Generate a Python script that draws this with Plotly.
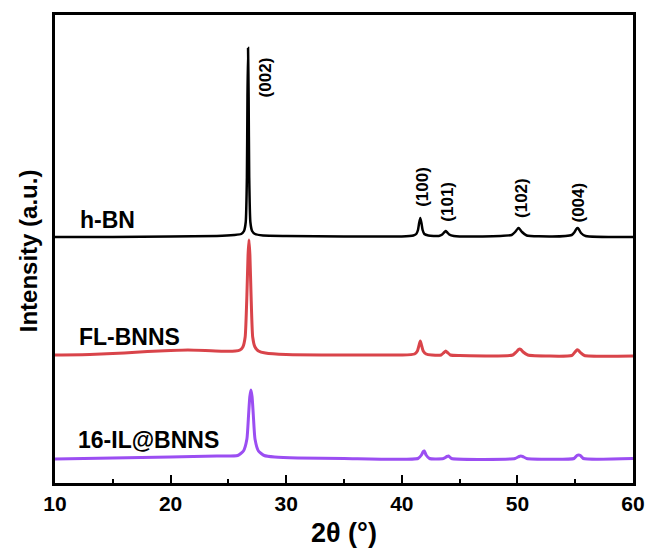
import plotly.graph_objects as go

# ---- data (2θ in degrees, intensity in arbitrary units above each baseline) ----
hbn_x = [10, 15, 20, 24, 25.5, 26.1, 26.35, 26.5, 26.6, 26.65, 26.7, 26.75, 26.8, 26.9, 27.05, 27.3, 28, 30, 35, 40,
         41.0, 41.25, 41.4, 41.5, 41.6, 41.7, 41.8, 41.95, 42.3, 43.2, 43.5, 43.7, 43.8, 43.9, 44.1, 44.5, 47,
         49.5, 49.8, 50.0, 50.1, 50.2, 50.4, 50.8, 53, 54.7, 54.95, 55.1, 55.2, 55.3, 55.5, 55.9, 60]
hbn_y = [0, 0, 0.5, 1, 2, 3, 6, 15, 60, 140, 189, 140, 60, 15, 6, 3, 1.5, 1, 0.5, 0.5,
         1.5, 3, 7, 14, 19, 14, 7, 3, 1.5, 1, 2.5, 5, 6, 5, 2.5, 1, 0.5,
         2, 5, 8, 9, 8, 5, 1.5, 0.5, 2, 5, 8, 9, 8, 4, 1, 0]

fl_x = [10, 13, 16, 18, 20, 21.5, 23, 24.5, 25.6, 26.0, 26.25, 26.45, 26.6, 26.7, 26.78, 26.86, 26.96, 27.1, 27.3,
        27.6, 28.2, 30, 35, 40, 41.1, 41.35, 41.5, 41.6, 41.7, 41.85, 42.1, 42.6, 43.4, 43.65, 43.8, 43.95, 44.2, 45,
        49.6, 49.9, 50.1, 50.2, 50.3, 50.5, 50.9, 54.7, 54.95, 55.15, 55.25, 55.45, 55.8, 60]
fl_y = [0, 0.5, 2, 3.5, 4.5, 5, 4.5, 3.8, 4, 5, 8, 18, 60, 100, 115, 100, 60, 18, 8,
        4, 2, 0.5, 0, 0, 1, 4, 10, 14, 10, 4, 1, 0, 0, 2.5, 4, 2.5, 0, -0.5,
        0, 3, 5.5, 6, 5.5, 3, 0, -0.5, 2.5, 5, 5, 2.5, -0.5, -1]

il_x = [10, 15, 20, 24, 25.8, 26.3, 26.6, 26.75, 26.85, 26.95, 27.05, 27.15, 27.3, 27.6, 28.1, 29, 31, 35,
        41.4, 41.7, 41.85, 41.95, 42.1, 42.4, 43.6, 43.9, 44.05, 44.3, 49.8, 50.15, 50.3, 50.45, 50.8,
        54.9, 55.15, 55.3, 55.45, 55.7, 60]
il_y = [0, 1, 2, 3, 3.5, 8, 20, 45, 62, 69, 62, 45, 20, 8, 3.5, 2, 1, 0.5,
        0.5, 4, 7.5, 8, 4, 0.5, 0.5, 2.5, 3, 0.5, 0.5, 2.5, 3, 2.5, 0.5,
        0.5, 3.5, 4, 3.5, 0.5, 0.5]

series_names = ["h-BN", "FL-BNNS", "16-IL@BNNS"]
series_offsets = [246, 128, 24]
series_colors = ["#000000", "#d9444a", "#9b4ef2"]
series_widths = [2.5, 3, 3]

peak_labels = ["(002)", "(100)", "(101)", "(102)", "(004)"]
x_ticks = [10, 20, 30, 40, 50, 60]

# label placements (data coordinates)
peak_label_x = [28.2, 41.73, 43.88, 50.31, 55.2]
peak_label_y = [406, 296, 281, 285, 280]
name_label_x = [12.0, 11.9, 11.85]
name_label_y = [263, 146, 43]

FONT = "Liberation Sans, Arial, sans-serif"

fig = go.Figure()
xs = [hbn_x, fl_x, il_x]
ys = [hbn_y, fl_y, il_y]
for name, x, y, off, col, w in zip(series_names, xs, ys, series_offsets, series_colors, series_widths):
    fig.add_trace(go.Scatter(x=x, y=[v + off for v in y], mode="lines", name=name,
                             line=dict(color=col, width=w, shape="spline", smoothing=0.5),
                             showlegend=False))

ann = []
for name, lx, ly in zip(series_names, name_label_x, name_label_y):
    ann.append(dict(x=lx, y=ly, xref="x", yref="y", text="<b>%s</b>" % name, showarrow=False,
                    xanchor="left", yanchor="middle", font=dict(family=FONT, size=23, color="black")))
for t, lx, ly in zip(peak_labels, peak_label_x, peak_label_y):
    ann.append(dict(x=lx, y=ly, xref="x", yref="y", text="<b>%s</b>" % t, showarrow=False,
                    textangle=-90, xanchor="center", yanchor="middle",
                    font=dict(family=FONT, size=17, color="black")))
ann.append(dict(x=-0.046, y=0.496, xref="paper", yref="paper", text="<b>Intensity (a.u.)</b>",
                showarrow=False, textangle=-90, xanchor="center", yanchor="middle",
                font=dict(family=FONT, size=24, color="black")))
ann.append(dict(x=0.5, y=-0.107, xref="paper", yref="paper", text="<b>2θ (°)</b>",
                showarrow=False, xanchor="center", yanchor="middle",
                font=dict(family=FONT, size=27, color="black")))

fig.update_layout(
    width=657, height=549,
    margin=dict(l=55, r=19, t=15, b=66),
    paper_bgcolor="white", plot_bgcolor="white",
    annotations=ann,
    xaxis=dict(range=[10, 60], tickvals=x_ticks, ticktext=["<b>%d</b>" % v for v in x_ticks],
               ticks="inside", ticklen=8, tickwidth=2, tickcolor="black",
               minor=dict(dtick=5, tick0=10, ticks="inside", ticklen=4, tickwidth=2, tickcolor="black"),
               showline=True, linewidth=2.5, linecolor="black", mirror=True,
               showgrid=False, zeroline=False,
               tickfont=dict(family=FONT, size=21, color="black")),
    yaxis=dict(range=[0, 468], showticklabels=False, ticks="",
               showline=True, linewidth=2.5, linecolor="black", mirror=True,
               showgrid=False, zeroline=False),
)

fig.write_html("out.html")
